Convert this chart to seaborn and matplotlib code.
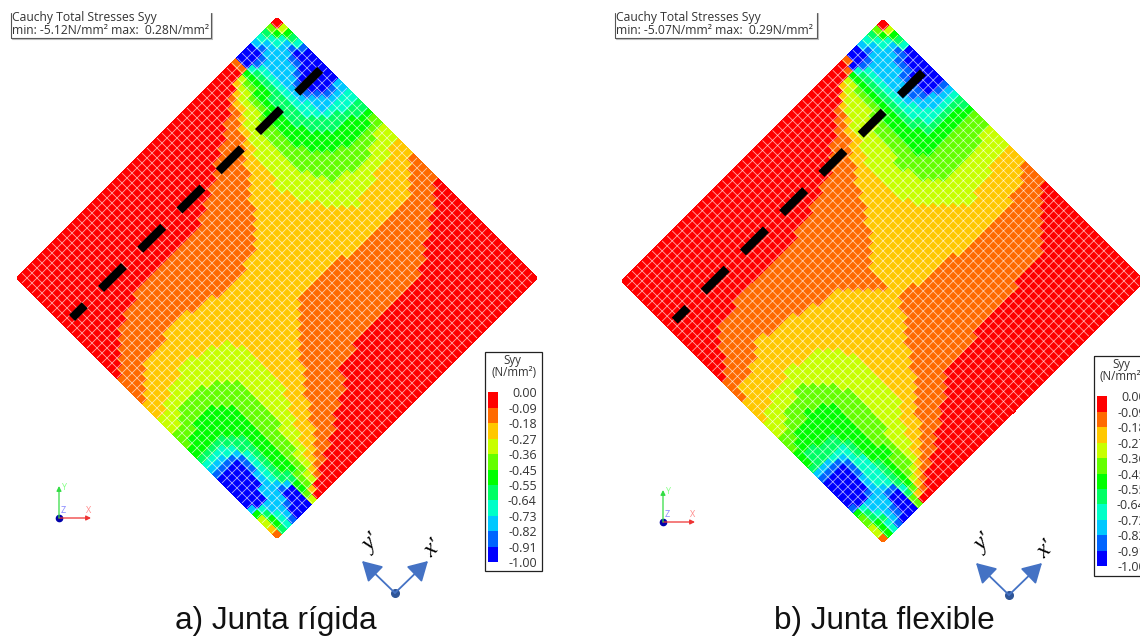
"""Cauchy stress Syy maps for a rigid and a flexible joint."""

import matplotlib.pyplot as plt
import numpy as np
import seaborn as sns
from matplotlib.colors import ListedColormap
from matplotlib.patches import Rectangle
from matplotlib.transforms import Affine2D

WIDTH, HEIGHT = 1140, 636
N_CELLS = 52

LEVEL_COLORS = ["#ff0000", "#ff6a00", "#ffc800", "#c8ff00", "#64ff00", "#00ff00",
                "#00ff64", "#00ffc8", "#00c8ff", "#0064ff", "#0000ff"]
LEVEL_LABELS = ["0.00", "-0.09", "-0.18", "-0.27", "-0.36", "-0.45",
                "-0.55", "-0.64", "-0.73", "-0.82", "-0.91", "-1.00"]

# each row runs along x', bottom row first; "level:end" are the runs of cells
ROWS_A = [
    "1:1 6:2 7:3 9:4 10:7 3:8 0:52",
    "2:1 5:2 7:3 8:4 10:7 4:8 2:9 0:52",
    "3:1 5:2 7:3 8:4 9:5 10:7 5:8 4:9 3:10 1:11 0:52",
    "3:1 6:2 8:5 10:7 5:8 4:9 3:10 2:11 1:13 0:52",
    "5:1 7:2 8:5 9:6 8:7 6:8 4:10 3:11 2:12 1:15 0:52",
    "8:1 10:3 8:6 6:8 5:9 4:10 3:11 2:13 1:17 0:52",
    "10:3 8:5 7:6 6:7 5:9 4:10 3:12 2:14 1:18 0:52",
    "10:4 8:5 7:6 6:7 5:9 4:11 3:12 2:15 1:20 0:52",
    "10:4 8:5 7:6 6:7 5:9 4:11 3:13 2:15 1:22 0:52",
    "10:4 9:5 7:6 6:7 5:9 4:11 3:13 2:16 1:23 0:52",
    "10:4 9:5 7:6 6:7 5:9 4:11 3:14 2:17 1:23 0:52",
    "10:4 9:5 7:6 6:7 5:9 4:12 3:14 2:17 1:27 0:52",
    "9:4 8:5 6:7 5:9 4:12 3:15 2:18 1:41 0:52",
    "8:3 7:5 6:7 5:9 4:12 3:15 2:19 1:43 0:52",
    "7:4 6:6 5:9 4:12 3:16 2:20 1:44 0:52",
    "6:5 5:9 4:12 3:16 2:20 1:46 0:52",
    "5:9 4:12 3:16 2:21 1:47 0:52",
    "5:9 4:12 3:16 2:22 1:49 0:52",
    "4:1 5:8 4:12 3:16 2:23 1:50 0:52",
    "4:3 5:7 4:12 3:16 2:24 1:51 0:52",
    "4:11 3:16 2:25 1:52",
    "3:2 4:10 3:16 2:26 1:35 2:48 1:52",
    "3:3 4:8 3:16 2:49 1:52",
    "3:15 2:50 1:52",
    "2:2 3:15 2:51 1:52",
    "2:4 3:13 2:41 3:42 2:52",
    "2:7 3:10 2:40 3:46 2:52",
    "1:1 2:39 3:50 2:52",
    "1:2 2:38 3:52",
    "1:3 2:38 3:44 4:48 3:52",
    "1:4 2:18 1:24 2:37 3:41 4:50 3:52",
    "1:9 2:14 1:27 2:36 3:41 4:52",
    "0:1 1:28 2:36 3:40 4:46 5:51 4:52",
    "0:2 1:29 2:36 3:40 4:44 5:52",
    "0:3 1:30 2:35 3:39 4:43 5:50 6:52",
    "0:4 1:31 2:35 3:39 4:42 5:46 6:52",
    "0:5 1:31 2:36 3:39 4:42 5:45 6:49 7:52",
    "0:7 1:32 2:36 3:39 4:41 5:44 6:47 7:52",
    "0:10 1:33 2:36 3:39 4:41 5:44 6:46 7:47 8:52",
    "0:24 1:34 2:36 3:39 4:41 5:43 6:45 7:47 8:49 9:51 8:52",
    "0:26 1:34 2:36 3:39 4:41 5:43 6:45 7:47 8:48 9:49 10:52",
    "0:28 1:35 2:37 3:39 4:41 5:43 6:45 7:46 8:47 9:48 10:52",
    "0:30 1:36 2:37 3:40 4:41 5:43 6:45 7:46 8:47 9:48 10:52",
    "0:31 1:37 2:38 3:40 4:41 5:43 6:45 7:46 8:47 9:48 10:52",
    "0:33 1:37 2:38 3:41 4:42 5:43 6:45 7:46 8:48 9:49 10:52",
    "0:35 1:38 2:39 3:41 4:42 5:44 6:45 7:46 8:49 9:50 10:52",
    "0:36 1:39 2:40 3:41 4:42 5:44 6:45 7:46 8:49 9:50 10:51 9:52",
    "0:38 1:39 2:40 3:42 4:43 5:44 6:45 7:46 8:50 9:51 7:52",
    "0:39 1:40 2:41 3:42 4:43 5:44 6:45 7:46 8:51 6:52",
    "0:41 2:42 3:43 5:44 7:45 9:47 8:49 7:51 5:52",
    "0:43 1:44 10:47 9:48 8:49 7:50 5:51 3:52",
    "0:43 1:44 10:47 8:48 7:49 6:50 4:51 0:52",
]

ROWS_B = [
    "1:1 5:2 7:3 9:4 10:7 4:8 0:52",
    "3:1 5:2 7:3 8:4 9:5 10:7 4:8 2:9 1:10 0:52",
    "3:1 5:2 6:3 8:4 9:5 10:7 6:8 4:9 2:10 1:11 0:52",
    "4:1 6:2 7:3 8:5 10:7 7:8 5:9 3:10 2:11 1:13 0:52",
    "4:1 6:2 8:5 9:7 6:8 5:9 4:10 3:11 2:12 1:15 0:52",
    "5:1 7:2 8:6 7:7 6:8 5:9 4:11 3:12 2:13 1:16 0:52",
    "9:1 10:3 9:4 8:5 7:7 6:8 5:9 4:11 3:12 2:14 1:18 0:52",
    "10:4 8:5 7:7 6:8 5:9 4:11 3:13 2:15 1:19 0:52",
    "10:4 8:5 7:7 6:8 5:10 4:11 3:13 2:16 1:21 0:52",
    "10:4 9:5 7:7 5:10 4:11 3:14 2:16 1:22 0:52",
    "10:4 9:5 7:7 5:9 4:11 3:14 2:17 1:23 0:52",
    "10:4 9:5 7:6 6:7 5:9 4:12 3:15 2:18 1:30 0:52",
    "9:4 8:5 7:6 6:7 5:9 4:12 3:16 2:19 1:39 0:52",
    "8:3 7:6 6:7 5:9 4:12 3:16 2:20 1:45 0:52",
    "6:6 5:9 4:12 3:16 2:20 1:46 0:52",
    "5:1 6:6 5:9 4:12 3:16 2:21 1:47 0:52",
    "5:1 6:3 5:9 4:12 3:16 2:22 1:48 0:52",
    "5:9 4:12 3:16 2:22 1:49 0:52",
    "4:1 5:9 4:12 3:16 2:23 1:50 0:52",
    "4:2 5:8 4:11 3:16 2:24 1:51 0:52",
    "4:5 5:6 4:11 3:16 2:25 1:52",
    "3:2 4:10 3:16 2:25 1:36 2:47 1:52",
    "3:3 4:9 3:15 2:26 1:29 2:50 1:52",
    "3:6 4:8 3:15 2:51 1:52",
    "2:1 3:14 2:52",
    "2:3 3:13 2:25 1:26 2:42 3:44 2:52",
    "2:7 3:9 2:24 1:26 2:41 3:48 2:52",
    "2:23 1:26 2:40 3:52",
    "1:1 2:22 1:26 2:39 3:52",
    "1:1 2:21 1:27 2:38 3:52",
    "1:4 2:17 1:28 2:37 3:42 4:50 3:52",
    "1:6 2:14 1:29 2:37 3:41 4:52",
    "0:1 1:7 2:9 1:30 2:36 3:40 4:52",
    "0:2 1:30 2:36 3:40 4:52",
    "0:3 1:31 2:36 3:40 4:43 5:52",
    "0:3 1:32 2:36 3:39 4:42 5:51 6:52",
    "0:4 1:32 2:36 3:39 4:42 5:45 6:52",
    "0:5 1:33 2:36 3:40 4:42 5:45 6:46 7:52",
    "0:9 1:33 2:36 3:40 4:42 5:44 6:46 7:48 8:52",
    "0:22 1:34 2:36 3:40 4:42 5:44 6:45 7:47 8:50 9:52",
    "0:26 1:35 2:37 3:40 4:42 5:44 6:45 7:47 8:48 9:49 10:52",
    "0:29 1:35 2:37 3:40 4:42 5:44 6:45 7:46 8:47 9:49 10:52",
    "0:32 1:36 2:38 3:41 4:42 5:44 6:45 7:46 8:47 9:49 10:52",
    "0:33 1:37 2:38 3:41 4:43 5:44 6:45 7:46 8:48 9:49 10:52",
    "0:34 1:37 2:38 3:42 4:43 5:44 6:45 7:46 8:48 9:50 10:52",
    "0:36 1:38 2:39 3:42 4:43 5:44 6:45 7:46 8:49 9:50 10:52",
    "0:37 1:39 3:42 4:43 5:44 6:45 7:46 8:49 9:51 10:52",
    "0:38 1:39 2:40 3:42 4:43 5:44 6:45 7:46 8:50 9:51 7:52",
    "0:40 2:41 3:43 5:44 6:45 7:46 8:51 6:52",
    "0:41 2:42 3:43 5:44 7:45 9:47 8:49 7:51 5:52",
    "0:43 1:44 10:47 9:48 8:49 7:50 5:51 3:52",
    "0:44 1:45 10:47 8:48 7:49 6:50 4:51 0:52",
]

SMALL_FONT = "Open Sans"
PX = 0.72  # points per pixel at 100 dpi


def main():
    """Draw both panels and save the figure."""
    sns.set_style("white")
    plt.rcParams["lines.scale_dashes"] = False

    fig = plt.figure(figsize=(WIDTH / 100, HEIGHT / 100), dpi=100)

    # overlay in pixel coordinates for the annotations
    over = fig.add_axes([0, 0, 1, 1], zorder=5)
    over.set_xlim(0, WIDTH)
    over.set_ylim(HEIGHT, 0)
    over.axis("off")

    stress_map(fig, ROWS_A, 277, 278, 260, (1.5, 51.6), 42.5)
    stress_map(fig, ROWS_B, 883, 281, 261, (1.3, 51.8), 42.8)

    info_box(over, 10.5, 211, "min: -5.12N/mm² max:  0.28N/mm²")
    info_box(over, 614.5, 817, "min: -5.07N/mm² max:  0.29N/mm²")
    legend(fig, over, 484.5, 352, 571)
    legend(fig, over, 1093.5, 356, 576)
    triad(over, 59, 518)
    triad(over, 663, 522)
    local_axes(over, 395, 593, 372, 543, 433, 549)
    local_axes(over, 1009, 595, 984, 543, 1046, 550)

    over.text(276, 621, "a) Junta rígida", ha="center", va="center",
              family="Liberation Sans", fontsize=22.7, color="#111111")
    over.text(884, 621, "b) Junta flexible", ha="center", va="center",
              family="Liberation Sans", fontsize=22.7, color="#111111")

    fig.savefig("out.png", dpi=100)


def expand_rows(rows):
    """Turn the run strings into a matrix of level numbers."""
    grid = np.zeros((N_CELLS, N_CELLS), dtype=int)
    for j, row in enumerate(rows):
        start = 0
        for token in row.split():
            level, end = token.split(":")
            grid[j, start:int(end)] = int(level)
            start = int(end)
    return grid


def stress_map(fig, rows, cx, cy, half, dash_span, dash_row):
    """Draw one mesh, rotated 45 degrees, with the dashed joint over it."""
    ax = fig.add_axes([(cx - half) / WIDTH, 1 - (cy + half) / HEIGHT,
                       2 * half / WIDTH, 2 * half / HEIGHT], zorder=2)
    sns.heatmap(expand_rows(rows), cmap=ListedColormap(LEVEL_COLORS), vmin=-0.5,
                vmax=10.5, cbar=False, linewidths=0.3, linecolor="face",
                xticklabels=False, yticklabels=False, ax=ax)
    rotated = Affine2D().rotate_deg(45) + ax.transData
    mesh = ax.collections[0]
    mesh.set_transform(rotated)
    mesh.set_antialiased(True)

    # thin pale mesh lines over the cells
    edges = np.arange(1, N_CELLS)
    grid_color = (1, 1, 1, 0.65)
    ax.hlines(edges, 0, N_CELLS, color=grid_color, lw=0.6, transform=rotated)
    ax.vlines(edges, 0, N_CELLS, color=grid_color, lw=0.6, transform=rotated)

    reach = N_CELLS / np.sqrt(2)
    ax.set_xlim(-reach, reach)
    ax.set_ylim(0, 2 * reach)
    ax.axis("off")

    ax.plot(dash_span, [dash_row, dash_row], color="black", lw=8.5 * PX,
            linestyle=(14.5 * PX, (32.5 * PX, 23 * PX)), dash_capstyle="butt",
            transform=rotated)


def info_box(over, left, right, text):
    """Draw the open topped title box in the top left of a panel."""
    over.plot([right, right, left, left], [13, 38, 38, 13], color="#555555", lw=0.8)
    over.plot([right + 1, right + 1, left + 1], [13, 39, 39], color="#bbbbbb", lw=0.8)
    over.text(left + 1.5, 18, "Cauchy Total Stresses Syy", family=SMALL_FONT,
              fontsize=8.7, color="#333333", va="center")
    over.text(left + 1.5, 30.5, text, family=SMALL_FONT, fontsize=8.7,
              color="#333333", va="center")


def legend(fig, over, left, top, bottom):
    """Draw the boxed colour legend of a panel."""
    over.add_patch(Rectangle((left, top), 57, bottom - top, fill=False,
                             edgecolor="#222222", lw=0.9))
    over.text(left + 28, top + 8.5, "Syy", family=SMALL_FONT, fontsize=8.3,
              color="#333333", ha="center", va="center")
    over.text(left + 29, top + 20.5, "(N/mm²)", family=SMALL_FONT, fontsize=8.3,
              color="#333333", ha="center", va="center")

    bar_left = left + 3.8
    bar_top = top + 40.3
    bar = fig.add_axes([bar_left / WIDTH, 1 - (bar_top + 170) / HEIGHT,
                        9.5 / WIDTH, 170 / HEIGHT], zorder=6)
    levels = np.arange(len(LEVEL_COLORS)).reshape(-1, 1)
    sns.heatmap(levels, cmap=ListedColormap(LEVEL_COLORS), vmin=-0.5, vmax=10.5,
                cbar=False, xticklabels=False, ax=bar)
    bar.yaxis.tick_right()
    bar.set_yticks(np.arange(len(LEVEL_LABELS)))
    bar.set_yticklabels(LEVEL_LABELS, rotation=0, ha="right", family=SMALL_FONT,
                        fontsize=9, color="#333333")
    bar.tick_params(axis="y", length=0, pad=39 * PX)


def triad(over, x, y):
    """Draw the small global axes marker."""
    for tip, color in (((x + 32, y), "#ee3333"), ((x, y - 32), "#33dd44")):
        over.annotate("", xy=tip, xytext=(x, y),
                      arrowprops=dict(arrowstyle="-|>", color=color, lw=0.9,
                                      mutation_scale=7, shrinkA=0, shrinkB=0))
    over.plot([x], [y], "o", color="#0000aa", ms=4.5)
    over.text(x + 30, y - 7.5, "X", color="#ff8888", family=SMALL_FONT, fontsize=6.5,
              ha="center", va="center")
    over.text(x + 5, y - 31, "Y", color="#88ff88", family=SMALL_FONT, fontsize=6.5,
              ha="center", va="center")
    over.text(x + 4.5, y - 7.5, "Z", color="#8888ff", family=SMALL_FONT, fontsize=6.5,
              ha="center", va="center")


def local_axes(over, x, y, yx, yy, xx, xy):
    """Draw the rotated blue x' and y' arrows."""
    for tip in ((x + 33, y - 32), (x - 33, y - 32)):
        over.annotate("", xy=tip, xytext=(x, y),
                      arrowprops=dict(arrowstyle="-|>,head_length=0.7,head_width=0.4",
                                      color="#4472c4", lw=1.3, mutation_scale=17,
                                      shrinkA=0, shrinkB=0))
    over.plot([x], [y], "o", color="#2f5597", ms=5.5)
    over.text(yx, yy, "y'", rotation=45, style="italic", family="Liberation Serif",
              fontsize=17, ha="center", va="center", color="black")
    over.text(xx, xy, "x'", rotation=45, style="italic", family="Liberation Serif",
              fontsize=17, ha="center", va="center", color="black")


if __name__ == "__main__":
    main()
